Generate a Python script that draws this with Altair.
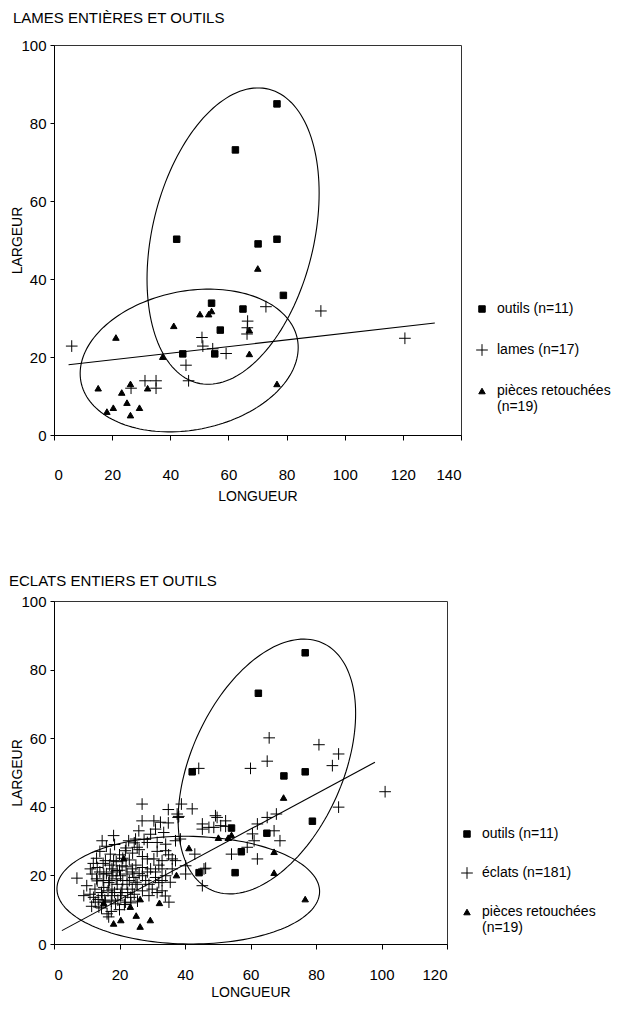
import numpy as np
import pandas as pd
import altair as alt

FONT = "Liberation Sans"

# ---------------- data ----------------
outils_x = [76.7, 62.4, 42.2, 70.2, 76.7, 78.9, 54.2, 65.0, 57.2, 44.3, 55.3]
outils_y = [84.9, 73.1, 50.2, 49.0, 50.2, 35.8, 33.8, 32.3, 26.9, 20.8, 20.8]

pieces_x = [70.1, 41.2, 50.2, 53.2, 54.2, 67.2, 67.2, 76.7, 37.4, 21.3, 15.2,
            23.3, 26.3, 32.2, 25.1, 29.4, 20.4, 18.2, 26.3]
pieces_y = [42.7, 28.0, 31.0, 31.0, 31.8, 26.9, 20.8, 13.1, 20.1, 25.0, 12.0,
            10.9, 13.1, 12.0, 8.3, 7.0, 7.0, 6.0, 5.1]

lames_x = [6.1, 91.8, 120.7, 72.9, 66.6, 66.4, 66.5, 50.9, 51.2, 54.6, 59.2,
           45.4, 46.3, 31.3, 35.1, 35.1, 26.5]
lames_y = [22.8, 31.8, 24.8, 32.9, 29.2, 25.9, 27.5, 25.0, 22.8, 22.1, 20.9,
           17.9, 13.9, 13.9, 13.9, 12.0, 12.0]

eclats_x = [
    65.7, 80.9, 60.0, 65.1, 44.2, 86.9, 85.0, 101.1, 86.9, 67.9, 65.1, 62.1, 67.2, 69.0,
    60.6, 61.1, 59.0, 62.1, 54.2, 46.3, 45.3,
    42.2, 38.9, 37.9, 45.3, 49.8, 52.4, 45.3, 48.8, 52.4, 38.6, 43.0, 40.2, 37.1, 40.2,
    45.8, 49.3, 50.9, 47.3, 38.1,
    26.9, 34.9, 37.6, 26.9, 30.5, 32.5, 34.9, 25.9, 31.0, 33.5, 14.7, 18.2, 22.8, 24.9,
    28.5, 31.5, 34.1, 37.1, 21.8, 25.4, 34.1, 17.2, 15.7, 18.2, 28.5, 30.5, 33.0, 36.1,
    20.8, 23.9, 11.1, 13.2, 17.7, 19.3, 27.0, 29.5, 33.0, 36.1, 11.6, 15.2, 17.7, 20.3,
    22.3, 24.4, 27.0, 31.0, 34.1, 7.0, 13.2, 16.7, 19.3, 22.3, 25.4, 29.0, 32.0, 15.2,
    17.7, 20.8, 23.9, 30.0, 33.0, 9.1, 12.1, 14.7, 17.7, 20.3, 23.4, 29.0, 12.6, 15.7,
    18.8, 21.8, 35.1, 13.7, 16.2, 16.7,
    14.0, 16.0, 18.5, 20.0, 22.0, 24.0, 26.0, 27.5, 29.5, 31.5,
    13.0, 15.0, 17.0, 19.0, 21.0, 23.0, 25.0, 27.0, 32.0, 35.0,
    12.0, 14.0, 16.0, 18.0, 20.0, 22.0, 24.0, 26.0, 28.5, 31.0,
    13.0, 15.0, 17.0, 19.0, 21.0, 23.0, 25.0, 28.0, 33.0, 35.5,
    12.5, 14.5, 16.5, 18.5, 20.5, 22.5, 24.5, 27.0, 31.5, 34.0,
    11.0, 13.5, 15.5, 17.5, 19.5, 21.5, 23.5, 25.5, 11.5, 14.5,
    17.5, 20.0, 10.0, 24.5,
]
eclats_y = [
    60.1, 58.1, 51.2, 53.3, 51.2, 55.4, 52.0, 44.4, 39.9, 37.9, 36.9, 35.0, 33.0, 30.1,
    32.1, 30.1, 28.2, 24.8, 26.2, 22.1, 17.0,
    39.4, 40.8, 36.9, 35.0, 36.9, 35.9, 33.5, 34.0, 34.3, 30.6, 26.2, 22.8, 24.3, 20.4,
    21.9, 37.4, 34.5, 34.0, 37.2,
    40.8, 39.2, 37.9, 35.9, 35.9, 35.5, 35.3, 33.0, 33.5, 32.5, 30.1, 31.6, 30.1, 30.6,
    29.6, 29.6, 29.1, 30.1, 27.2, 28.2, 27.2, 26.2, 24.3, 24.3, 24.8, 24.8, 24.3, 24.8,
    22.8, 21.9, 21.9, 22.3, 21.9, 21.4, 22.3, 21.9, 21.9, 21.9, 20.4, 20.4, 19.9, 19.9,
    20.4, 19.4, 19.9, 19.4, 19.9, 19.2, 18.4, 17.9, 17.4, 17.4, 17.4, 17.4, 17.9, 16.5,
    16.0, 16.0, 16.0, 16.0, 15.5, 14.1, 13.6, 14.1, 14.1, 14.1, 13.6, 14.1, 12.2, 12.2,
    11.7, 12.2, 12.2, 10.8, 8.8, 7.9,
    27.0, 28.5, 29.0, 26.0, 28.0, 26.5, 27.5, 30.5, 32.0, 27.0,
    25.0, 23.5, 23.0, 24.0, 25.0, 24.5, 23.0, 25.5, 23.0, 26.0,
    23.5, 21.0, 20.5, 21.0, 21.5, 22.5, 21.0, 20.5, 21.0, 21.0,
    19.0, 18.5, 18.5, 19.0, 18.5, 18.5, 18.0, 18.5, 18.5, 18.0,
    16.0, 15.0, 15.5, 15.0, 15.0, 15.0, 14.5, 15.5, 15.0, 14.0,
    14.5, 13.0, 12.8, 12.5, 12.8, 11.5, 12.0, 12.5, 11.0, 10.5,
    9.5, 10.0, 17.0, 29.5,
]

# ellipses: centre x, centre y, half x-extent, half y-extent, x of top point
top_ell_cx = [61.6, 46.5]
top_ell_cy = [51.0, 19.1]
top_ell_rx = [29.6, 37.5]
top_ell_ry = [38.0, 18.3]
top_ell_xtop = [70.2, 53.3]

bot_ell_cx = [65.0, 41.0]
bot_ell_cy = [51.75, 15.7]
bot_ell_rx = [27.1, 40.1]
bot_ell_ry = [37.15, 15.7]
bot_ell_xtop = [76.3, 40.0]

# trend lines (end points)
top_trend_x = [5.0, 131.0]
top_trend_y = [18.0, 28.7]
bot_trend_x = [2.4, 98.0]
bot_trend_y = [3.9, 53.0]

top_series = ["outils (n=11)", "lames (n=17)", "pièces retouchées (n=19)"]
bot_series = ["outils (n=11)", "éclats (n=181)", "pièces retouchées (n=19)"]

PLUS = "M-1.8,0H1.8M0,-1.8V1.8"


def ellipse_df(cx, cy, rx, ry, xtop):
    rows = []
    t = np.linspace(0, 2 * np.pi, 161)
    for k in range(len(cx)):
        d = np.arccos(np.clip((xtop[k] - cx[k]) / rx[k], -1, 1))
        xs = cx[k] + rx[k] * np.cos(t)
        ys = cy[k] + ry[k] * np.cos(t - d)
        for i, (a, b) in enumerate(zip(xs, ys)):
            rows.append({"e": k, "i": i, "x": a, "y": b})
    return pd.DataFrame(rows)


def points_df(series, groups):
    rows = []
    for name, (xs, ys) in zip(series, groups):
        for a, b in zip(xs, ys):
            rows.append({"series": name, "x": a, "y": b})
    return pd.DataFrame(rows)


LABEL_EXPR = ("datum.label == 'pièces retouchées (n=19)' ? "
              "['pièces retouchées', '(n=19)'] : datum.label")


def panel(title, title_dx, title_off, series, groups, ell, trend_x, trend_y, xmax,
          width, height, label_pad, title_pad, legend_x, legend_y, row_pad):
    xs = alt.Scale(domain=[0, xmax], nice=False, zero=False)
    ys = alt.Scale(domain=[0, 100], nice=False, zero=False)
    xaxis = alt.Axis(values=list(range(0, xmax + 1, 20)), title="LONGUEUR",
                     labelPadding=label_pad, titlePadding=title_pad)
    yaxis = alt.Axis(values=list(range(0, 101, 20)), title="LARGEUR",
                     titlePadding=-4, tickSize=4, labelPadding=4)

    ell_layer = alt.Chart(ell).mark_line(color="black", strokeWidth=1.1).encode(
        x=alt.X("x:Q", scale=xs, axis=xaxis),
        y=alt.Y("y:Q", scale=ys, axis=yaxis),
        detail="e:N",
        order="i:Q",
    )
    trend = alt.Chart(pd.DataFrame({"x": trend_x, "y": trend_y})).mark_line(
        color="black", strokeWidth=1.1).encode(
        x=alt.X("x:Q", scale=xs), y=alt.Y("y:Q", scale=ys))

    leg = dict(orient="none", legendX=legend_x, legendY=legend_y, title=None,
               labelExpr=LABEL_EXPR, rowPadding=row_pad, symbolSize=42,
               symbolStrokeWidth=1,
               labelFontSize=14, labelFont=FONT, labelColor="black",
               labelOffset=8, padding=0, labelLimit=200)
    pts = alt.Chart(points_df(series, groups)).mark_point(
        size=42, strokeWidth=1, opacity=1, filled=False,
        fillOpacity=1, strokeOpacity=1).encode(
        x=alt.X("x:Q", scale=xs),
        y=alt.Y("y:Q", scale=ys),
        shape=alt.Shape("series:N", scale=alt.Scale(
            domain=series, range=["square", PLUS, "triangle-up"]),
            legend=alt.Legend(**leg)),
        fill=alt.Fill("series:N", scale=alt.Scale(
            domain=series, range=["black", "transparent", "black"]),
            legend=alt.Legend(**leg)),
        stroke=alt.Stroke("series:N", scale=alt.Scale(
            domain=series, range=["black", "black", "black"]),
            legend=alt.Legend(**leg)),
    )
    return alt.layer(ell_layer, trend, pts).properties(
        width=width, height=height,
        title=alt.TitleParams(title, anchor="start", fontSize=15, font=FONT,
                              fontWeight="normal", color="black", dx=title_dx,
                              offset=title_off),
    )


top = panel("LAMES ENTIÈRES ET OUTILS", 2, 12, top_series,
            [(outils_x, outils_y), (lames_x, lames_y), (pieces_x, pieces_y)],
            ellipse_df(top_ell_cx, top_ell_cy, top_ell_rx, top_ell_ry, top_ell_xtop),
            top_trend_x, top_trend_y, 140, 407, 390, 27, 7, 421, 257, 26)

bottom = panel("ECLATS ENTIERS ET OUTILS", -2, 5, bot_series,
               [(outils_x, outils_y), (eclats_x, eclats_y), (pieces_x, pieces_y)],
               ellipse_df(bot_ell_cx, bot_ell_cy, bot_ell_rx, bot_ell_ry, bot_ell_xtop),
               bot_trend_x, bot_trend_y, 120, 393, 343, 18, 3, 406, 226, 24)

chart = alt.vconcat(top, bottom, spacing=69).resolve_scale(
    shape="independent", fill="independent", stroke="independent",
    x="independent", y="independent"
).resolve_legend(shape="independent", fill="independent", stroke="independent").properties(
    padding={"left": 0, "top": 2, "right": 0, "bottom": 0},
    background="white",
).configure_view(stroke="#333333", strokeWidth=1).configure_axis(
    grid=False, domainColor="black", tickColor="black", tickSize=5,
    labelFontSize=15, labelFont=FONT, labelColor="black",
    titleFontSize=14, titleFont=FONT, titleFontWeight="normal", titleColor="black",
)

chart.save("out.html", embed_options={"renderer": "svg", "actions": False})
